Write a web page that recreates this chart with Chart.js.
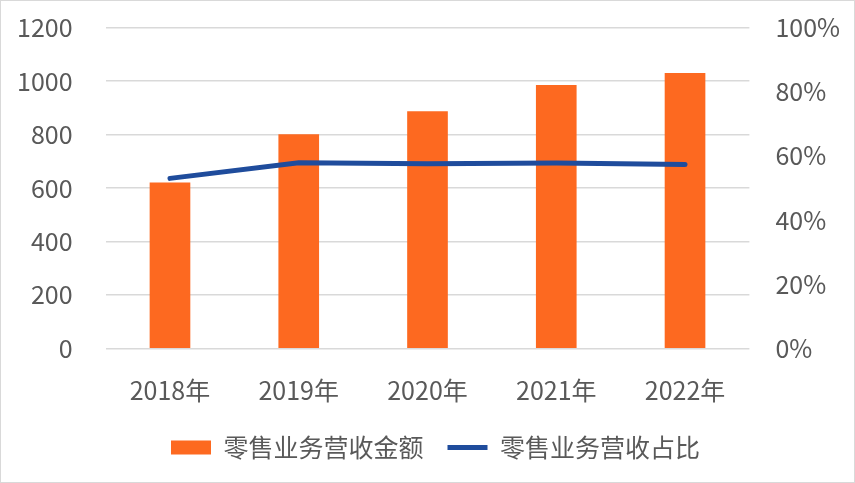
<!DOCTYPE html>
<html>
<head>
<meta charset="utf-8">
<script src="https://cdn.jsdelivr.net/npm/chart.js@4/dist/chart.umd.min.js"></script>
<style>
  html, body { margin: 0; padding: 0; background: #fff; }
  .chart { width: 855px; height: 483px; box-sizing: border-box; border: 1px solid #d9d9d9; }
</style>
</head>
<body>
<div class="chart"><canvas id="myChart" width="853" height="481"></canvas></div>
<script>
const categories = ['2018年', '2019年', '2020年', '2021年', '2022年'];
const retailRevenue = [619, 800, 886, 984, 1029];
const retailShare = [0.530, 0.579, 0.576, 0.578, 0.573];
const leftTicks = [0, 200, 400, 600, 800, 1000, 1200];
const rightTicks = [0, 0.2, 0.4, 0.6, 0.8, 1.0];

const textColor = '#595959';
const gridColor = '#d9d9d9';
const fontFamily = '"Noto Sans CJK SC", "Noto Sans", sans-serif';

Chart.defaults.font.family = fontFamily;
Chart.defaults.font.size = 25;
Chart.defaults.color = textColor;

// keep the plot area where the reference has it
function noPad(s) {
    s.paddingTop = 0;
    s.paddingBottom = 0;
    s.paddingLeft = 0;
    s.paddingRight = 0;
}

const ctx = document.getElementById('myChart').getContext('2d');
const chart = new Chart(ctx, {
    type: 'bar',
    data: {
        labels: categories,
        datasets: [{
            type: 'bar',
            label: '零售业务营收金额',
            data: retailRevenue,
            backgroundColor: '#FD6920',
            yAxisID: 'y',
            barThickness: 40,
            order: 1,
        }, {
            type: 'line',
            label: '零售业务营收占比',
            data: retailShare,
            borderColor: '#1F4C9C',
            backgroundColor: '#1F4C9C',
            borderWidth: 5,
            borderCapStyle: 'round',
            pointRadius: 0,
            tension: 0,
            yAxisID: 'y1',
            order: 0,
        }],
    },
    options: {
        responsive: false,
        animation: false,
        layout: { padding: { top: 26.7, left: 16, right: 0, bottom: 12 } },
        plugins: {
            tooltip: { enabled: false },
            legend: {
                position: 'bottom',
                labels: {
                    usePointStyle: true,
                    pointStyleWidth: 40,
                    boxHeight: 14,
                    padding: 24,
                    color: textColor,
                    font: { size: 25 },
                    sort: (a, b) => a.datasetIndex - b.datasetIndex,
                    generateLabels: (c) => Chart.defaults.plugins.legend.labels.generateLabels(c).map((item) => {
                        item.pointStyle = item.datasetIndex === 0 ? 'rect' : 'line';
                        item.lineWidth = item.datasetIndex === 0 ? 0 : 5;
                        return item;
                    }),
                },
            },
        },
        scales: {
            x: {
                afterFit: (s) => { s.height = 62.7; noPad(s); },
                grid: { display: false, drawTicks: false },
                border: { display: false },
                ticks: { padding: 27, color: textColor },
            },
            y: {
                position: 'left',
                min: 0,
                max: 1200,
                afterBuildTicks: (s) => { s.ticks = leftTicks.map((v) => ({ value: v })); },
                afterFit: (s) => { s.width = 88.6; noPad(s); },
                grid: { color: gridColor, lineWidth: 1.5, drawTicks: false },
                border: { display: false },
                ticks: { padding: 33, color: textColor, callback: (v) => String(v) },
            },
            y1: {
                position: 'right',
                min: 0,
                max: 1,
                afterBuildTicks: (s) => { s.ticks = rightTicks.map((v) => ({ value: v })); },
                afterFit: (s) => { s.width = 104.6; noPad(s); },
                grid: { display: false, drawTicks: false },
                border: { display: false },
                ticks: {
                    padding: 26,
                    color: textColor,
                    callback: (v) => Math.round(v * 100) + '%',
                },
            },
        },
    },
});
</script>
</body>
</html>
